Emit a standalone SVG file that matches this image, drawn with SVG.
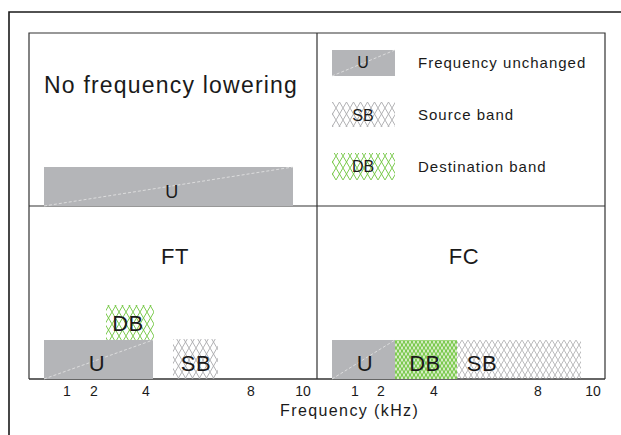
<svg xmlns="http://www.w3.org/2000/svg" width="621" height="435" viewBox="0 0 621 435">
<style>
text{font-family:"Liberation Sans",Arial,sans-serif;fill:#1a1a1a}
.big{font-size:23px;letter-spacing:1.2px}
.lab{font-size:22px;letter-spacing:0.5px;text-anchor:middle}
.leg{font-size:15px;letter-spacing:1px}
.legl{font-size:16px;text-anchor:middle}
.tick{font-size:14px;text-anchor:middle}
.frame{fill:none;stroke:#333;stroke-width:1.2}
.u{fill:#b4b5b8}
.diag{stroke:#e6e6e6;stroke-width:0.8;stroke-dasharray:3 2}
.sb{fill:url(#hatchGray)}
.db{fill:url(#hatchGreen)}
</style>
<defs>
<pattern id="hatchGray" patternUnits="userSpaceOnUse" width="7" height="12">
<path d="M0,0 L7,12 M7,0 L0,12" stroke="#a9a9ab" stroke-width="0.9" fill="none"/>
</pattern>
<pattern id="hatchGreen" patternUnits="userSpaceOnUse" width="7" height="12">
<path d="M0,0 L7,12 M7,0 L0,12" stroke="#6cc43a" stroke-width="0.9" fill="none"/>
</pattern>
<pattern id="hatchGray2" patternUnits="userSpaceOnUse" width="6" height="10">
<path d="M0,0 L6,10 M6,0 L0,10" stroke="#a9a9ab" stroke-width="0.8" fill="none"/>
</pattern>
<pattern id="hatchGreenDense" patternUnits="userSpaceOnUse" width="4" height="6">
<rect width="4" height="6" fill="#d4ecc2"/>
<path d="M0,0 L4,6 M4,0 L0,6" stroke="#6cc43a" stroke-width="1" fill="none"/>
</pattern>
</defs>

<g id="outer-frame">
<path d="M9,435 V12 H621" fill="none" stroke="#1a1a1a" stroke-width="1.6"/>
</g>

<g id="panel-frames">
<path class="frame" d="M29,379 V33 H605 V379 M29,206 H605 M317,33 V379"/>
<path d="M29,379 H605" stroke="#333" stroke-width="1.4"/>
</g>

<g id="panel-none">
<text class="big" x="44" y="93">No frequency lowering</text>
<rect class="u" x="44" y="167" width="249" height="39"/>
<line class="diag" x1="44" y1="206" x2="293" y2="167"/>
<text class="lab" x="172" y="198" style="font-size:18px">U</text>
</g>

<g id="legend">
<rect class="u" x="332" y="50" width="63" height="26"/>
<line class="diag" x1="332" y1="76" x2="395" y2="50"/>
<text class="legl" x="363" y="68">U</text>
<text class="leg" x="418" y="68">Frequency unchanged</text>
<rect class="sb" x="332" y="102" width="63" height="25"/>
<text class="legl" x="363" y="121">SB</text>
<text class="leg" x="418" y="120">Source band</text>
<rect class="db" x="332" y="153" width="63" height="27"/>
<text class="legl" x="363" y="172">DB</text>
<text class="leg" x="418" y="172">Destination band</text>
</g>

<g id="panel-ft">
<text class="lab" x="175" y="264">FT</text>
<rect class="db" x="106" y="305" width="48" height="35"/>
<text class="lab" x="128" y="331">DB</text>
<rect class="u" x="44" y="340" width="109" height="39"/>
<line class="diag" x1="44" y1="379" x2="153" y2="340"/>
<text class="lab" x="97" y="371">U</text>
<rect class="sb" x="173" y="339" width="45" height="40"/>
<text class="lab" x="196" y="371">SB</text>
<text class="tick" x="67" y="396">1</text>
<text class="tick" x="94" y="396">2</text>
<text class="tick" x="146" y="396">4</text>
<text class="tick" x="251" y="396">8</text>
<text class="tick" x="303" y="396">10</text>
</g>

<g id="panel-fc">
<text class="lab" x="464" y="264">FC</text>
<rect class="u" x="332" y="340" width="63" height="39"/>
<line class="diag" x1="332" y1="379" x2="395" y2="340"/>
<text class="lab" x="365" y="371">U</text>
<rect x="395" y="340" width="62" height="39" fill="url(#hatchGreenDense)"/>
<text class="lab" x="425" y="371">DB</text>
<rect x="457" y="340" width="124" height="39" fill="url(#hatchGray2)"/>
<text class="lab" x="482" y="371">SB</text>
<text class="tick" x="355" y="396">1</text>
<text class="tick" x="381" y="396">2</text>
<text class="tick" x="434" y="396">4</text>
<text class="tick" x="538" y="396">8</text>
<text class="tick" x="593" y="396">10</text>
</g>

<g id="axis-label">
<text x="280" y="416" style="font-size:16px;letter-spacing:1.4px">Frequency (kHz)</text>
</g>
</svg>
